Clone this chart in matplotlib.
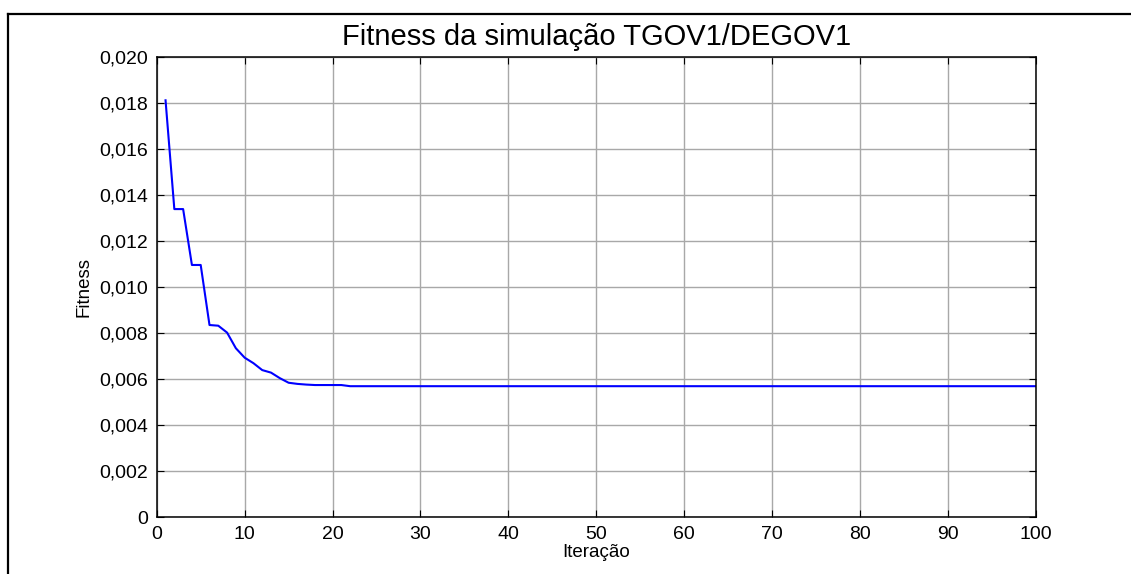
import matplotlib
matplotlib.use("Agg")
import matplotlib.pyplot as plt
from matplotlib.lines import Line2D
from matplotlib.ticker import FuncFormatter

plt.rcParams["font.family"] = ["Liberation Sans", "DejaVu Sans"]

# valores
iteracoes = list(range(1, 101))
fitness_inicio = [0.01813, 0.01340, 0.01340, 0.01097, 0.01097, 0.00836, 0.00833,
                  0.00803, 0.00735, 0.00694, 0.00670, 0.00640, 0.00629, 0.00605,
                  0.00585, 0.00580, 0.00577, 0.00575, 0.00575, 0.00575, 0.00575]
fitness_final = [0.00570] * 79
fitness = fitness_inicio + fitness_final

x_ticks = [0, 10, 20, 30, 40, 50, 60, 70, 80, 90, 100]
y_ticks = [0, 0.002, 0.004, 0.006, 0.008, 0.010, 0.012, 0.014, 0.016, 0.018, 0.020]

titulo = "Fitness da simulação TGOV1/DEGOV1"
rotulo_x = "Iteração"
rotulo_y = "Fitness"


def formata_y(v, pos):
    if abs(v) < 1e-12:
        return "0"
    return f"{v:.3f}".replace(".", ",")


fig = plt.figure(figsize=(11.31, 5.74), dpi=100)
ax = fig.add_axes([0.1386, 0.0988, 0.7771, 0.8014])

ax.plot(iteracoes, fitness, color="#0000ff", linewidth=1.5)

ax.set_xlim(0, 100)
ax.set_ylim(0, 0.020)
ax.set_xticks(x_ticks)
ax.set_yticks(y_ticks)
ax.yaxis.set_major_formatter(FuncFormatter(formata_y))

ax.grid(True, color="#a8a8a8", linewidth=1.0, linestyle="-")
ax.tick_params(direction="in", length=5, width=0.8, top=True, right=True,
               labelsize=14, colors="black", pad=6)
for s in ax.spines.values():
    s.set_linewidth(1.1)
    s.set_color("black")

ax.set_title(titulo, fontsize=21, pad=9)
ax.set_xlabel(rotulo_x, fontsize=13.5, labelpad=1)
ax.set_ylabel(rotulo_y, fontsize=13.5, labelpad=5)

# moldura externa (cortada à direita e em baixo)
x0 = 8 / 1131
y0 = 1 - 14 / 574
fig.add_artist(Line2D([x0, x0], [0, y0], color="black", linewidth=1.6,
                      transform=fig.transFigure))
fig.add_artist(Line2D([x0, 1], [y0, y0], color="black", linewidth=1.6,
                      transform=fig.transFigure))

fig.savefig("out.png", dpi=100)
